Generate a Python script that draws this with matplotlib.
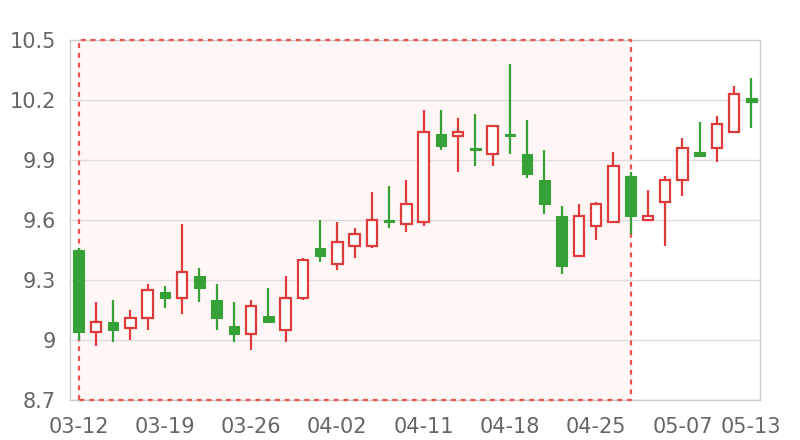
import matplotlib
matplotlib.use("Agg")
import matplotlib.pyplot as plt
import numpy as np

dates = ["03-12", "03-13", "03-14", "03-15", "03-18", "03-19", "03-20", "03-21", "03-22", "03-25",
         "03-26", "03-27", "03-28", "03-29", "04-01", "04-02", "04-03", "04-08", "04-09", "04-10",
         "04-11", "04-12", "04-15", "04-16", "04-17", "04-18", "04-19", "04-22", "04-23", "04-24",
         "04-25", "04-26", "04-29", "04-30", "05-06", "05-07", "05-08", "05-09", "05-10", "05-13"]

opens = [9.45, 9.04, 9.09, 9.06, 9.11, 9.24, 9.21, 9.32, 9.20, 9.07,
         9.03, 9.12, 9.05, 9.21, 9.46, 9.38, 9.47, 9.47, 9.60, 9.58,
         9.59, 10.03, 10.02, 9.96, 9.93, 10.03, 9.93, 9.80, 9.62, 9.42,
         9.57, 9.59, 9.82, 9.60, 9.69, 9.80, 9.94, 9.96, 10.04, 10.21]
closes = [9.04, 9.09, 9.05, 9.11, 9.25, 9.21, 9.34, 9.26, 9.11, 9.03,
          9.17, 9.09, 9.21, 9.40, 9.42, 9.49, 9.53, 9.60, 9.59, 9.68,
          10.04, 9.97, 10.04, 9.95, 10.07, 10.02, 9.83, 9.68, 9.37, 9.62,
          9.68, 9.87, 9.62, 9.62, 9.80, 9.96, 9.92, 10.08, 10.23, 10.19]
highs = [9.46, 9.19, 9.20, 9.15, 9.28, 9.27, 9.58, 9.36, 9.28, 9.19,
         9.20, 9.26, 9.32, 9.41, 9.60, 9.59, 9.56, 9.74, 9.77, 9.80,
         10.15, 10.15, 10.11, 10.13, 10.07, 10.38, 10.10, 9.95, 9.67, 9.68,
         9.69, 9.94, 9.84, 9.75, 9.82, 10.01, 10.09, 10.12, 10.27, 10.31]
lows = [9.00, 8.97, 8.99, 9.00, 9.05, 9.16, 9.13, 9.19, 9.05, 8.99,
        8.95, 9.09, 8.99, 9.20, 9.39, 9.35, 9.41, 9.46, 9.56, 9.54,
        9.57, 9.95, 9.84, 9.87, 9.87, 9.93, 9.81, 9.63, 9.33, 9.42,
        9.50, 9.59, 9.53, 9.60, 9.47, 9.72, 9.92, 9.89, 10.04, 10.06]

# highlighted range (markArea)
area_start, area_end = "03-12", "04-29"
y_ticks = [8.7, 9.0, 9.3, 9.6, 9.9, 10.2, 10.5]
y_labels = ["8.7", "9", "9.3", "9.6", "9.9", "10.2", "10.5"]
label_idx = [0, 5, 10, 15, 20, 25, 30, 35, 39]

up_color = "#e03a3a"
down_color = "#36a136"

fig = plt.figure(figsize=(8, 4.4), dpi=100)
ax = fig.add_axes([0.0875, 0.0909, 0.8625, 0.8182])

x = np.arange(len(dates))
o = np.array(opens)
c = np.array(closes)
h = np.array(highs)
l = np.array(lows)
up = c >= o

# mark area (border drawn over the spines)
x0, x1 = dates.index(area_start), dates.index(area_end)
ax.fill_between([x0, x1], y_ticks[0], y_ticks[-1], color="#fff6f6", zorder=0)
ax.plot([x0, x0, x1, x1, x0], [y_ticks[0], y_ticks[-1], y_ticks[-1], y_ticks[0], y_ticks[0]],
        color="#ef5050", lw=1.6, ls=(0, (2.2, 2.2)), zorder=2.6, clip_on=False)

# wicks
ax.vlines(x[up], l[up], h[up], color=up_color, lw=1.6, zorder=3)
ax.vlines(x[~up], l[~up], h[~up], color=down_color, lw=1.6, zorder=3)

# bodies
w = 0.62
ax.bar(x[up], np.maximum(c[up] - o[up], 0.005), bottom=o[up], width=w,
       color="white", edgecolor=up_color, linewidth=1.6, zorder=4)
ax.bar(x[~up], np.maximum(o[~up] - c[~up], 0.005), bottom=c[~up], width=w,
       color=down_color, edgecolor=down_color, linewidth=0.8, zorder=4)

ax.set_xlim(-0.5, len(dates) - 0.5)
ax.set_ylim(8.7, 10.5)
ax.set_yticks(y_ticks)
ax.set_yticklabels(y_labels)
ax.set_xticks(label_idx)
ax.set_xticklabels([dates[i] for i in label_idx])
ax.tick_params(length=0, labelsize=15, colors="#666666")
ax.tick_params(axis="x", pad=12)
ax.tick_params(axis="y", pad=10)
ax.grid(axis="y", color="#dddddd", lw=1)
ax.set_axisbelow(True)
for s in ax.spines.values():
    s.set_color("#cccccc")
    s.set_linewidth(1)

fig.savefig("out.png", dpi=100)
